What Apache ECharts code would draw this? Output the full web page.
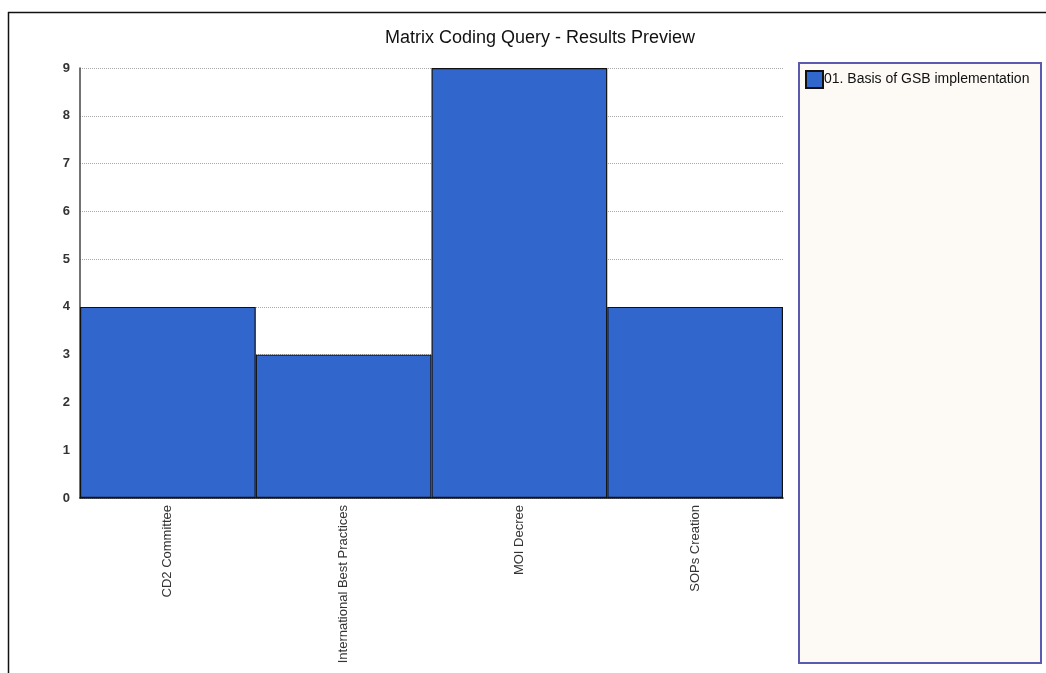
<!DOCTYPE html>
<html>
<head>
<meta charset="utf-8">
<script src="https://cdn.jsdelivr.net/npm/echarts@6/dist/echarts.min.js"></script>
<style>
  html, body { margin: 0; padding: 0; background: #ffffff; }
  #chart { width: 1046px; height: 673px; }
</style>
</head>
<body>
<div id="chart"></div>
<script>
// Coding categories and reference counts per category
const categories = ['CD2 Committee', 'International Best Practices', 'MOI Decree', 'SOPs Creation'];
const seriesName = '01. Basis of GSB implementation';
const counts = [4, 3, 9, 4];
const yTicks = [0, 1, 2, 3, 4, 5, 6, 7, 8, 9];

const FONT = '"Liberation Sans", Arial, sans-serif';
const chart = echarts.init(document.getElementById('chart'), null, { renderer: 'canvas' });

chart.setOption({
  backgroundColor: '#ffffff',
  animation: false,
  textStyle: { fontFamily: FONT },
  title: {
    text: 'Matrix Coding Query - Results Preview',
    left: 535,
    textAlign: 'center',
    top: 24,
    textStyle: { fontFamily: FONT, fontSize: 18, fontWeight: 'normal', color: '#111111' }
  },
  graphic: [
    // outer frame (top and left edges)
    { type: 'line', shape: { x1: 8, y1: 12.5, x2: 1046, y2: 12.5 }, style: { stroke: '#111', lineWidth: 1.5 }, z: 0 },
    { type: 'line', shape: { x1: 8.5, y1: 12, x2: 8.5, y2: 673 }, style: { stroke: '#111', lineWidth: 1.5 }, z: 0 },
    // legend panel
    { type: 'rect', shape: { x: 799, y: 63, width: 242, height: 600 },
      style: { fill: '#fdf9f4', stroke: '#5a5ab0', lineWidth: 2 }, z: 0 }
  ],
  legend: {
    data: [seriesName],
    left: 805,
    top: 70,
    itemWidth: 17,
    itemHeight: 17,
    itemGap: 4,
    icon: 'rect',
    padding: 0,
    textStyle: { fontFamily: FONT, fontSize: 14, color: '#111', padding: [0, 0, 0, -4] },
    z: 5
  },
  grid: { left: 80, right: 263, top: 68, bottom: 175, containLabel: false },
  xAxis: {
    type: 'category',
    data: categories,
    axisLine: { show: true, lineStyle: { color: '#111', width: 1.5 } },
    axisTick: { show: false },
    axisLabel: { rotate: 90, margin: 7, fontSize: 13, color: '#333', fontFamily: FONT, interval: 0 },
    splitLine: { show: false }
  },
  yAxis: {
    type: 'value',
    min: yTicks[0],
    max: yTicks[yTicks.length - 1],
    interval: 1,
    axisLine: { show: true, lineStyle: { color: '#444', width: 1.5 } },
    axisTick: { show: false },
    axisLabel: { fontSize: 13, color: '#333', fontWeight: 'bold', margin: 10, fontFamily: FONT },
    splitLine: { show: true, lineStyle: { color: '#a8a8a8', type: 'dotted', width: 1 } }
  },
  series: [{
    name: seriesName,
    type: 'bar',
    data: counts,
    barCategoryGap: '0%',
    itemStyle: { color: '#3166cc', borderColor: '#111', borderWidth: 1.2 },
    emphasis: { disabled: true }
  }]
});
</script>
</body>
</html>
